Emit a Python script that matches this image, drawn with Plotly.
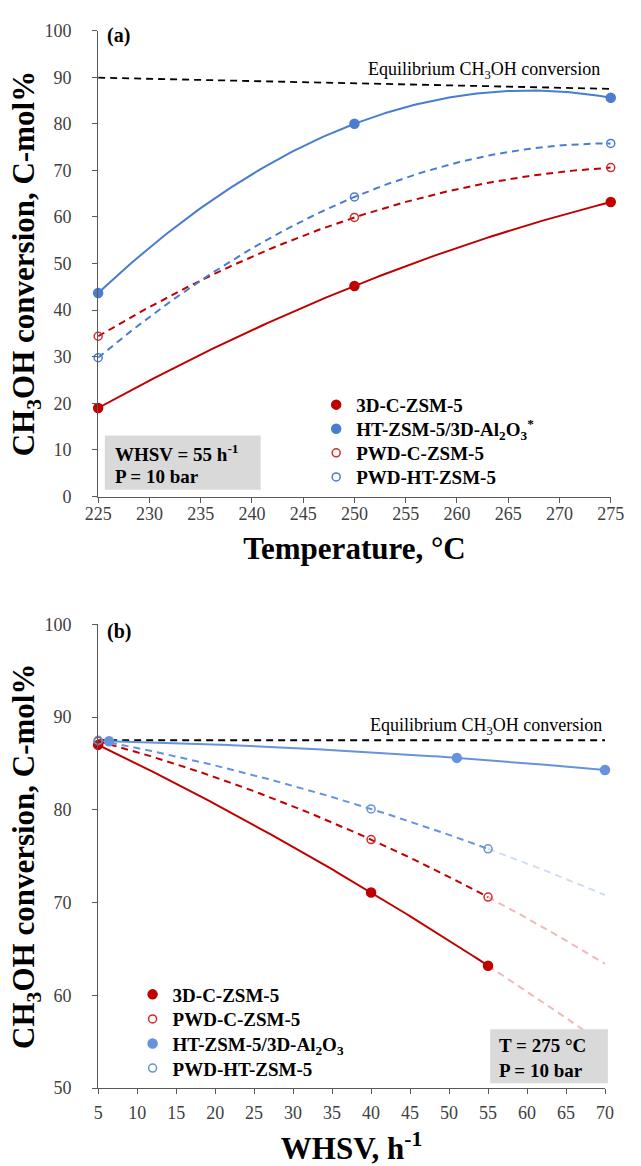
import numpy as np
import plotly.graph_objects as go

# ---- Panel (a): CH3OH conversion vs temperature (WHSV = 55 h-1, P = 10 bar)
temp_c = [225, 250, 275]
conv_3d_c = [19.0, 45.2, 63.2]
conv_ht_al2o3 = [43.7, 80.0, 85.6]
conv_pwd_c = [34.4, 59.9, 70.6]
conv_pwd_ht = [29.8, 64.3, 75.8]
eq_temp = [225, 275]
eq_conv_temp = [89.9, 87.5]

# ---- Panel (b): CH3OH conversion vs WHSV (T = 275 °C, P = 10 bar)
whsv = [5, 40, 55]
whsv_3d_c = [87.0, 71.1, 63.2]
whsv_pwd_c = [87.4, 76.8, 70.6]
whsv_pwd_ht = [87.5, 80.1, 75.8]
whsv_ht = [6.4, 51, 70]
whsv_ht_conv = [87.4, 85.6, 84.3]
eq_whsv = [5, 70]
eq_conv_whsv = [87.5, 87.5]
whsv_forecast_end = 70

temp_ticks = list(range(225, 276, 5))
whsv_ticks = list(range(5, 71, 5))
conv_ticks_a = list(range(0, 101, 10))
conv_ticks_b = list(range(50, 101, 10))

W, H = 641, 1166
FONT = "Liberation Serif"
RED = "#C00000"
RED_OPEN = "#D22B2B"
BLUE_A = "#4A7DD0"
BLUE_B = "#6792DC"
PINK = "#F2B9B9"
LIGHT_BLUE = "#CFDDF4"
AXIS = "#595959"


def fx(p):
    return p / W


def fy(p):
    return 1 - p / H


def trend(x, y, x0, x1, n=150):
    """Second-order polynomial trendline through the measured points."""
    coef = np.polyfit(x, y, 2)
    xs = np.linspace(x0, x1, n)
    return xs, np.polyval(coef, xs)


fig = go.Figure()


def add_line(xs, ys, color, dash, xa, ya, width=2):
    fig.add_trace(go.Scatter(
        x=xs, y=ys, mode="lines", xaxis=xa, yaxis=ya, showlegend=False,
        hoverinfo="skip", line=dict(color=color, width=width, dash=dash)))


def add_points(x, y, name, color, filled, xa, ya, legend):
    fig.add_trace(go.Scatter(
        x=x, y=y, mode="markers", name=name, xaxis=xa, yaxis=ya,
        legend=legend, cliponaxis=False,
        marker=dict(
            symbol="circle" if filled else "circle-open",
            size=9 if filled else 8,
            color=color,
            line=dict(color=color, width=1.5))))


DASH = "7px,5px"

# ---------------- panel (a)
add_line(eq_temp, eq_conv_temp, "black", DASH, "x", "y", 1.8)
for vals, color, dash in [
    (conv_pwd_c, RED, DASH),
    (conv_pwd_ht, BLUE_A, DASH),
    (conv_3d_c, RED, "solid"),
    (conv_ht_al2o3, BLUE_A, "solid"),
]:
    xs, ys = trend(temp_c, vals, temp_c[0], temp_c[-1])
    add_line(xs, ys, color, dash, "x", "y")

add_points(temp_c, conv_3d_c, "3D-C-ZSM-5", RED, True, "x", "y", "legend")
add_points(temp_c, conv_ht_al2o3, "HT-ZSM-5/3D-Al<sub>2</sub>O<sub>3</sub><sup>*</sup>",
           BLUE_A, True, "x", "y", "legend2")
add_points(temp_c, conv_pwd_c, "PWD-C-ZSM-5", RED_OPEN, False, "x", "y", "legend3")
add_points(temp_c, conv_pwd_ht, "PWD-HT-ZSM-5", BLUE_A, False, "x", "y", "legend4")

# ---------------- panel (b)
add_line(eq_whsv, eq_conv_whsv, "black", DASH, "x2", "y2", 1.8)
for vals, color, faded, dash in [
    (whsv_pwd_ht, BLUE_B, LIGHT_BLUE, DASH),
    (whsv_pwd_c, RED, PINK, DASH),
    (whsv_3d_c, RED, PINK, "solid"),
]:
    # extension of the trendline beyond the last measurement
    xs, ys = trend(whsv, vals, whsv[-1], whsv_forecast_end)
    add_line(xs, ys, faded, DASH, "x2", "y2")
    xs, ys = trend(whsv, vals, whsv[0], whsv[-1])
    add_line(xs, ys, color, dash, "x2", "y2")
xs, ys = trend(whsv_ht, whsv_ht_conv, whsv_ht[0], whsv_ht[-1])
add_line(xs, ys, BLUE_B, "solid", "x2", "y2")

add_points(whsv, whsv_3d_c, "3D-C-ZSM-5", RED, True, "x2", "y2", "legend5")
add_points(whsv, whsv_pwd_c, "PWD-C-ZSM-5", RED_OPEN, False, "x2", "y2", "legend6")
add_points(whsv_ht, whsv_ht_conv, "HT-ZSM-5/3D-Al<sub>2</sub>O<sub>3</sub>",
           BLUE_B, True, "x2", "y2", "legend7")
add_points(whsv, whsv_pwd_ht, "PWD-HT-ZSM-5", BLUE_B, False, "x2", "y2", "legend8")

# ---------------- axes
tickfont = dict(family=FONT, size=18, color="#404040")
titlefont = dict(family=FONT, size=31, color="black", weight="bold")
common = dict(showline=True, linecolor=AXIS, linewidth=1.3, ticks="outside",
              ticklen=5, tickcolor=AXIS, tickwidth=1.3, showgrid=False,
              zeroline=False, tickfont=tickfont, fixedrange=True)

ytitle = "CH<sub>3</sub>OH conversion, C-mol%"

layout = dict(
    width=W, height=H, margin=dict(l=0, r=0, t=0, b=0),
    paper_bgcolor="white", plot_bgcolor="white",
    font=dict(family=FONT, color="black"),
    xaxis=dict(domain=[fx(88), fx(624)], range=[225, 275], tickvals=temp_ticks,
               anchor="y", title=dict(text="Temperature, °C", font=titlefont, standoff=14),
               ticklabelstandoff=-4, **common),
    yaxis=dict(domain=[fy(495), fy(21)], range=[0, 100], tickvals=conv_ticks_a,
               anchor="x", title=dict(text=ytitle, font=titlefont, standoff=0),
               ticklabelstandoff=17, **common),
    xaxis2=dict(domain=[fx(88), fx(618)], range=[5, 70], tickvals=whsv_ticks,
                anchor="y2", title=dict(text="WHSV, h<sup>-1</sup>", font=titlefont, standoff=17),
                ticklabelstandoff=3, **common),
    yaxis2=dict(domain=[fy(1097), fy(625)], range=[50, 100], tickvals=conv_ticks_b,
                anchor="x2", title=dict(text=ytitle, font=titlefont, standoff=0),
                ticklabelstandoff=17, **common),
)

# one legend box per entry so that the row spacing can be set freely
legfont = dict(family=FONT, size=19, color="black", weight="bold")
rows_a = [401.7, 426.2, 450.7, 475.2]
rows_b = [1001.7, 1026.7, 1051.7, 1076.7]
for i, yy in enumerate(rows_a + rows_b):
    key = "legend" if i == 0 else f"legend{i + 1}"
    xleft = 316 if i < 4 else 124
    layout[key] = dict(x=fx(xleft), y=fy(yy), xanchor="left", yanchor="middle",
                       bgcolor="rgba(0,0,0,0)", borderwidth=0, font=legfont,
                       itemclick=False, itemdoubleclick=False)

fig.update_layout(**layout)

# ---------------- condition boxes
fig.add_shape(type="rect", xref="paper", yref="paper",
              x0=fx(95), x1=fx(258), y0=fy(488), y1=fy(433),
              fillcolor="#D9D9D9", line=dict(width=0), layer="above")
fig.add_shape(type="rect", xref="paper", yref="paper",
              x0=fx(498), x1=fx(621), y0=fy(1092), y1=fy(1037),
              fillcolor="#D9D9D9", line=dict(width=0), layer="above")

boxfont = dict(family=FONT, size=19, color="black", weight="bold")
notes = [
    ("WHSV = 55 h<sup>-1</sup>", 103, 450.7),
    ("P = 10 bar", 103, 474.3),
    ("T = 275 °C", 505, 1054),
    ("P = 10 bar", 505, 1079),
]
for text, xx, yy in notes:
    fig.add_annotation(text=text, xref="paper", yref="paper", x=fx(xx), y=fy(yy),
                       xanchor="left", yanchor="middle", showarrow=False, font=boxfont)

# panel labels
for text, yy in [("(a)", 26), ("(b)", 632)]:
    fig.add_annotation(text=text, xref="paper", yref="paper", x=fx(95), y=fy(yy),
                       xanchor="left", yanchor="middle", showarrow=False,
                       font=dict(family=FONT, size=20, color="black", weight="bold"))

# equilibrium labels
eqfont = dict(family=FONT, size=18, color="black")
for yy, xr in [(61.7, 615), (729, 617)]:
    fig.add_annotation(text="Equilibrium CH<sub>3</sub>OH conversion", xref="paper",
                       yref="paper", x=fx(xr), y=fy(yy), xanchor="right",
                       yanchor="middle", showarrow=False, font=eqfont)

fig.write_html("out.html")
